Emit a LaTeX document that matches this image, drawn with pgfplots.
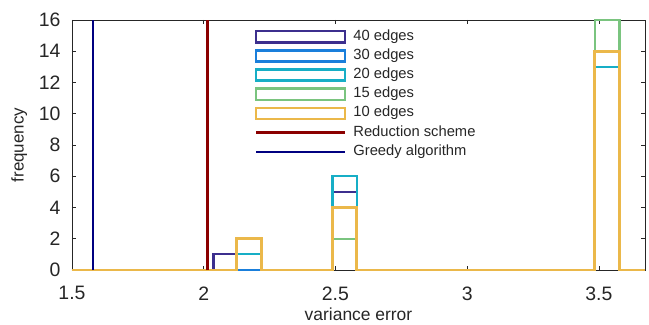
\documentclass[border=0pt]{standalone}
\usepackage{pgfplots}
\pgfplotsset{compat=1.18}
\usepackage{fontspec}
\setmainfont{Liberation Sans}
\definecolor{axgray}{HTML}{262626}
\definecolor{c40}{HTML}{3C2F8E}
\definecolor{c30}{HTML}{1A7FDB}
\definecolor{c20}{HTML}{17AEC6}
\definecolor{c15}{HTML}{7AC47F}
\definecolor{c10}{HTML}{EBB84A}
\definecolor{cred}{HTML}{8B0000}
\definecolor{cgreedy}{HTML}{000080}
\begin{document}
\begin{tikzpicture}
\begin{axis}[
  scale only axis,
  width=573bp, height=250bp,
  xmin=1.5, xmax=3.675, ymin=0, ymax=16,
  clip=false,
  axis line style={axgray, line width=0.6bp},
  every tick/.style={axgray, line width=0.6bp},
  tick align=inside,
  major tick length=4bp,
  xtick={1.5,2,2.5,3,3.5},
  ytick={0,2,...,16},
  /pgf/number format/assume math mode=true,
  ticklabel style={font=\fontsize{19.5}{21}\selectfont, text=axgray},
  xticklabel style={yshift=-13bp},
  yticklabel style={xshift=-8bp},
  xlabel={variance error}, ylabel={frequency},
  label style={text=axgray},
  xlabel style={font=\fontsize{17.5}{19}\selectfont, inner sep=0pt, text depth=0pt, yshift=-4.5bp},
  ylabel style={font=\fontsize{17}{19}\selectfont, yshift=5bp},
  legend style={at={(0.3135,0.972)}, anchor=north west, draw=none, fill=none,
    font=\fontsize{14.8}{16}\selectfont, text=axgray,
    nodes={inner sep=1bp, text height=10bp, text depth=3bp},
    row sep=4.2bp},
  legend cell align=left,
  legend columns=1,
  every axis plot/.append style={line width=2.2bp},
]
\pgfplotsset{
  histlegend/.style={legend image code/.code={\draw[##1, line width=2.5bp] (0bp,-5.6bp) rectangle (89bp,5.6bp); \path (95bp,0bp);}},
  linelegend/.style={legend image code/.code={\draw[##1, line width=2.4bp] (0bp,0bp) -- (89bp,0bp); \path (95bp,0bp);}},
}
% 40 edges
\addplot[c40, const plot mark left, histlegend] coordinates {
 (1.5,0) (2.037,1) (2.125,0) (2.489,5) (2.581,0) (3.484,14) (3.578,0) (3.675,0)};
\addlegendentry{40 edges}
% 30 edges
\addplot[c30, const plot mark left, histlegend] coordinates {
 (1.5,0) (2.489,6) (2.581,0) (3.484,14) (3.578,0) (3.675,0)};
\addlegendentry{30 edges}
% 20 edges
\addplot[c20, const plot mark left, histlegend] coordinates {
 (1.5,0) (2.125,1) (2.220,0) (2.489,6) (2.581,0) (3.484,13) (3.578,0) (3.675,0)};
\addlegendentry{20 edges}
% 15 edges
\addplot[c15, const plot mark left, histlegend] coordinates {
 (1.5,0) (2.125,2) (2.220,0) (2.489,2) (2.581,0) (3.484,16) (3.578,0) (3.675,0)};
\addlegendentry{15 edges}
% 10 edges
\addplot[c10, const plot mark left, histlegend, line width=2.6bp] coordinates {
 (1.5,0) (2.125,2) (2.220,0) (2.489,4) (2.581,0) (3.484,14) (3.578,0) (3.675,0)};
\addlegendentry{10 edges}
\addplot[cred, linelegend] coordinates {(2.014,0) (2.014,16)};
\addlegendentry{Reduction scheme}
\addplot[cgreedy, linelegend] coordinates {(1.581,0) (1.581,16)};
\addlegendentry{Greedy algorithm}
\end{axis}
\pgfresetboundingbox
\path (-72bp,-55bp) rectangle (577bp,270bp);
\end{tikzpicture}
\end{document}
